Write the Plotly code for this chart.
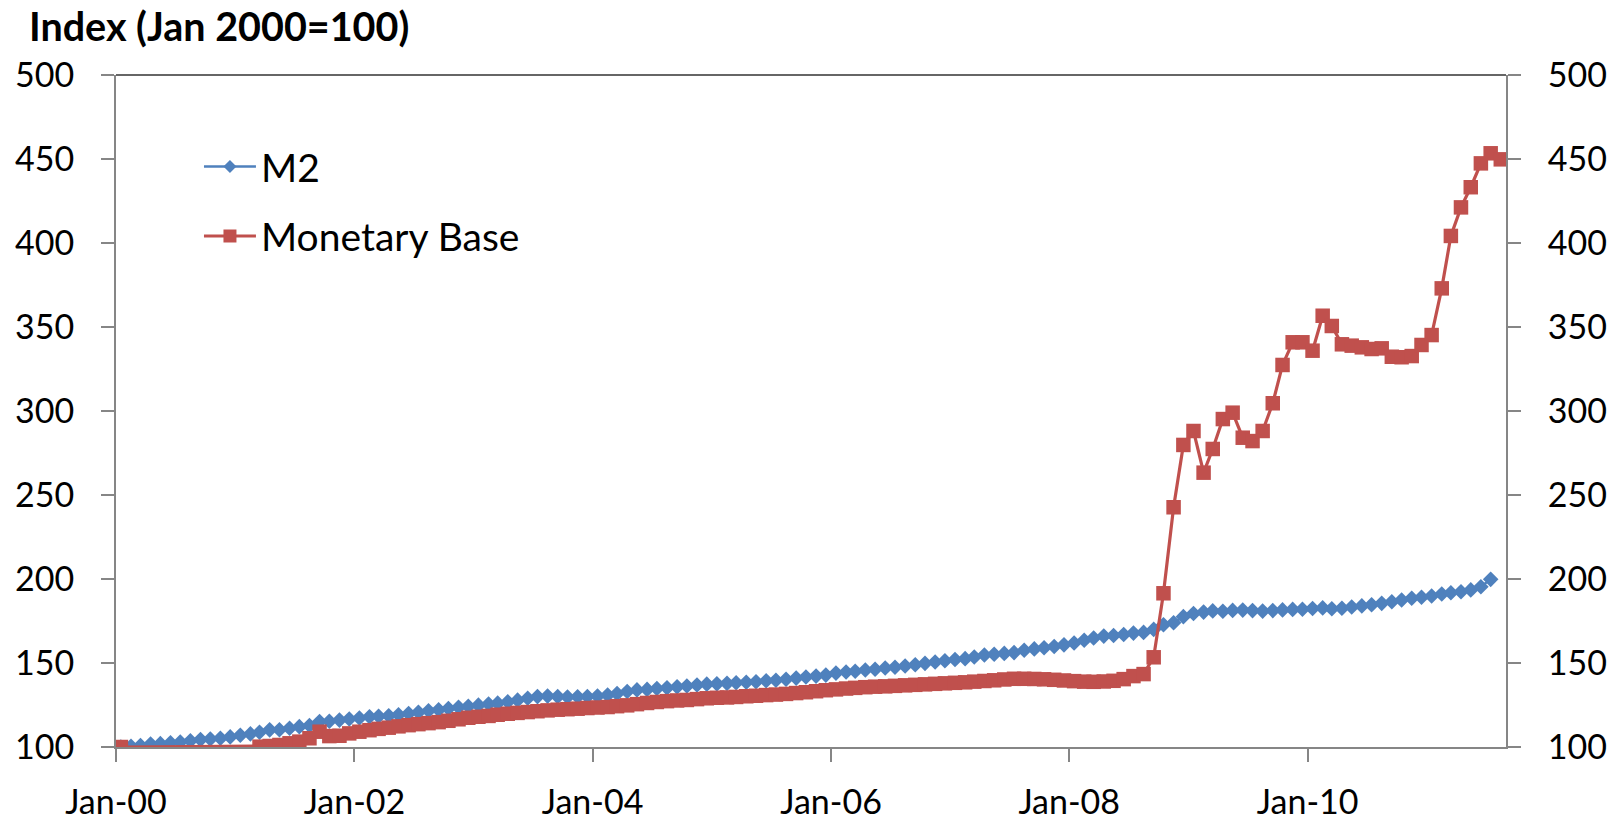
import pandas as pd
import plotly.graph_objects as go

# Monthly observations, Jan 2000 onward (index, Jan 2000 = 100)
m2 = [
    # 2000
    100.0, 100.4, 100.9, 101.8, 102.0, 102.5, 103.0, 103.7, 104.4, 104.8, 105.2, 106.0,
    # 2001
    107.0, 107.8, 108.8, 110.2, 110.3, 111.2, 112.1, 112.8, 115.2, 115.3, 116.0, 116.7,
    # 2002
    117.3, 118.0, 118.3, 118.6, 119.2, 119.9, 120.7, 121.6, 122.1, 122.9, 123.7, 124.3,
    # 2003
    124.9, 125.6, 126.1, 126.9, 127.9, 129.0, 130.0, 130.3, 130.0, 129.8, 129.9, 130.1,
    # 2004
    130.3, 130.9, 131.8, 133.0, 134.0, 134.3, 134.8, 135.2, 135.8, 136.3, 136.9, 137.4,
    # 2005
    137.6, 137.9, 138.2, 138.5, 138.8, 139.4, 139.7, 140.3, 141.0, 141.7, 142.2, 142.8,
    # 2006
    144.0, 144.6, 145.1, 145.8, 146.3, 147.0, 147.5, 148.2, 149.0, 149.8, 150.6, 151.3,
    # 2007
    152.1, 152.6, 153.6, 154.8, 155.2, 155.7, 156.2, 157.6, 158.4, 159.1, 159.8, 160.8,
    # 2008
    161.9, 163.5, 164.9, 166.0, 166.4, 167.0, 167.8, 168.2, 170.0, 172.8, 174.0, 177.6,
    # 2009
    179.5, 180.3, 181.0, 180.8, 181.3, 181.5, 181.2, 180.9, 181.2, 181.6, 181.9, 182.0,
    # 2010
    182.4, 182.8, 182.3, 182.6, 183.3, 184.0, 184.7, 185.5, 186.5, 187.5, 188.5, 189.1,
    # 2011
    189.9, 191.1, 191.8, 192.4, 193.5, 195.4, 199.8,
]

monetary_base = [
    # 2000
    100.0, None, None, None, None, None, None, None, None, None, None, None,
    # 2001
    None, None, 100.2, 100.6, 101.2, 102.2, 103.2, 105.2, 109.1, 106.5, 106.7, 108.1,
    # 2002
    109.1, 110.0, 110.8, 111.5, 112.3, 113.0, 113.6, 114.2, 114.8, 115.6, 116.5, 117.4,
    # 2003
    118.0, 118.5, 119.2, 119.8, 120.3, 120.8, 121.3, 121.8, 122.2, 122.5, 122.8, 123.2,
    # 2004
    123.5, 123.8, 124.3, 124.8, 125.5, 126.2, 126.8, 127.3, 127.7, 128.0, 128.5, 129.0,
    # 2005
    129.3, 129.5, 129.8, 130.2, 130.5, 130.9, 131.2, 131.6, 132.1, 132.6, 133.2, 133.8,
    # 2006
    134.3, 134.8, 135.2, 135.6, 135.9, 136.1, 136.4, 136.7, 137.0, 137.3, 137.6, 137.9,
    # 2007
    138.2, 138.5, 138.9, 139.3, 139.7, 140.2, 140.6, 140.6, 140.5, 140.3, 140.0, 139.6,
    # 2008
    139.2, 138.9, 138.8, 139.0, 139.4, 140.4, 142.2, 143.4, 153.4, 191.5, 242.7, 279.8,
    # 2009
    288.1, 263.3, 277.4, 295.2, 299.0, 284.1, 282.1, 288.1, 304.6, 327.4, 340.9, 340.9,
    # 2010
    335.9, 356.7, 350.6, 339.7, 338.9, 337.9, 336.9, 337.3, 332.3, 332.0, 332.7, 339.3,
    # 2011
    345.2, 373.0, 404.2, 421.2, 433.2, 447.4, 453.4, 449.8,
]

y_ticks = [100, 150, 200, 250, 300, 350, 400, 450, 500]

# points sit mid-month, between the month boundaries
months_m2 = pd.date_range("2000-01-01", periods=len(m2), freq="MS") + pd.Timedelta(days=15)
months_mb = pd.date_range("2000-01-01", periods=len(monetary_base), freq="MS") + pd.Timedelta(days=15)

FONT = "Lato"
AXIS_GREY = "#868686"
BLUE = "#4F81BD"
RED = "#C0504D"

fig = go.Figure()
fig.add_trace(go.Scatter(
    x=months_m2, y=m2, name="M2", mode="lines+markers",
    line=dict(color=BLUE, width=2.5),
    marker=dict(symbol="diamond", size=12, color=BLUE),
))
fig.add_trace(go.Scatter(
    x=months_mb, y=monetary_base, name="Monetary Base", mode="lines+markers",
    connectgaps=True,
    line=dict(color=RED, width=3.2),
    marker=dict(symbol="square", size=14.5, color=RED),
))
# empty trace so the secondary (right) axis is drawn
fig.add_trace(go.Scatter(x=[None], y=[None], yaxis="y2", showlegend=False,
                         hoverinfo="skip"))

common_y = dict(
    range=[100, 500], tickvals=y_ticks, showgrid=False, zeroline=False,
    showline=True, linecolor=AXIS_GREY, linewidth=2,
    ticks="outside", ticklen=13, tickwidth=1.5, tickcolor=AXIS_GREY,
    tickfont=dict(family=FONT, size=34, color="black"),
    ticklabelstandoff=20, automargin=False,
)

# legend drawn in the upper-left of the plot area
PW, PH = 1623 - 116 - 116.5, 822 - 75 - 75
legend_rows = [("M2", BLUE, "diamond", 166.5), ("Monetary Base", RED, "square", 236)]
shapes = [dict(
    type="line", xref="paper", yref="paper", x0=0, x1=1, y0=1, y1=1,
    line=dict(color="#333333", width=1.5), layer="above",
)]
annotations = []
for label, color, sym, ypx in legend_rows:
    yp = (747 - ypx) / PH
    x0, x1 = (204 - 116) / PW, (256 - 116) / PW
    xc = (x0 + x1) / 2
    shapes.append(dict(type="line", xref="paper", yref="paper", x0=x0, x1=x1, y0=yp, y1=yp,
                       line=dict(color=color, width=3 if sym == "square" else 2.5)))
    dx, dy = 6.5 / PW, 6.5 / PH
    if sym == "diamond":
        path = (f"M {xc},{yp + dy} L {xc + dx},{yp} L {xc},{yp - dy} "
                f"L {xc - dx},{yp} Z")
    else:
        path = (f"M {xc - dx},{yp - dy} L {xc + dx},{yp - dy} L {xc + dx},{yp + dy} "
                f"L {xc - dx},{yp + dy} Z")
    shapes.append(dict(type="path", xref="paper", yref="paper", path=path,
                       fillcolor=color, line=dict(width=0)))
    annotations.append(dict(
        text=label, xref="paper", yref="paper", x=(259 - 116) / PW, y=yp,
        xanchor="left", yanchor="middle", showarrow=False,
        font=dict(family=FONT, size=39, color="black"),
    ))

fig.update_layout(
    width=1623, height=822,
    margin=dict(l=116, r=116.5, t=75, b=75),
    paper_bgcolor="white", plot_bgcolor="white",
    showlegend=False,
    title=dict(
        text="<b>Index (Jan 2000=100)</b>",
        x=29 / 1623, xref="container", xanchor="left",
        y=1 - 27 / 822, yref="container", yanchor="middle",
        font=dict(family=FONT, size=39.5, color="black"),
    ),
    xaxis=dict(
        type="date", range=["2000-01-01", "2011-09-01"],
        tick0="2000-01-01", dtick="M24", tickformat="%b-%y",
        showgrid=False, zeroline=False,
        showline=True, linecolor=AXIS_GREY, linewidth=2,
        ticks="outside", ticklen=13, tickwidth=1.5, tickcolor=AXIS_GREY,
        tickfont=dict(family=FONT, size=34, color="black"),
        ticklabelstandoff=11, automargin=False,
    ),
    yaxis=dict(**common_y, side="left"),
    yaxis2=dict(**common_y, side="right", overlaying="y", anchor="x"),
    shapes=shapes,
    annotations=annotations,
)

fig.write_html("out.html")
